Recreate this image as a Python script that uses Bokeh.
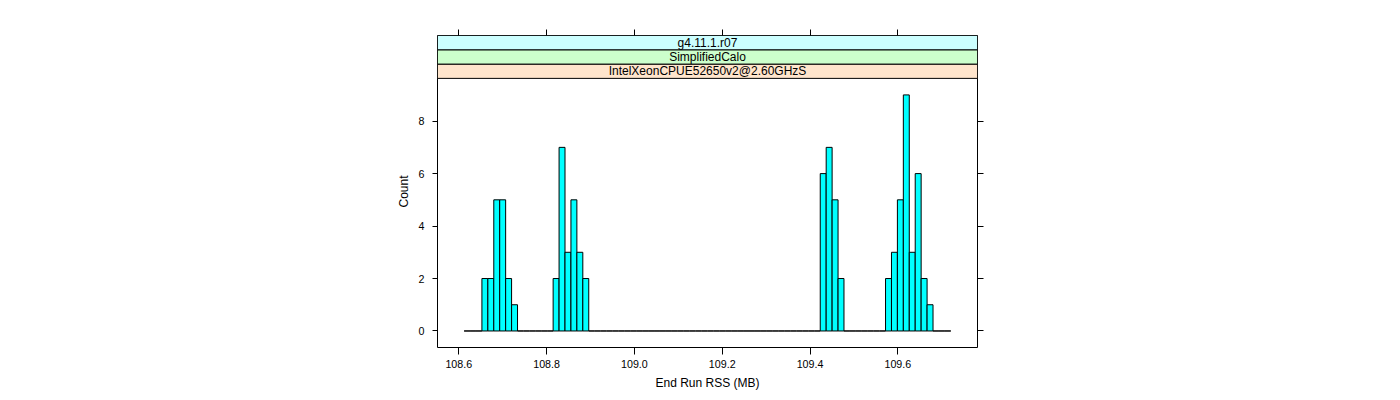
from bokeh.plotting import figure
from bokeh.models import Range1d, FixedTicker, LinearAxis, ColumnDataSource, NumeralTickFormatter
from bokeh.core.properties import value
from bokeh.embed import file_html
from bokeh.resources import INLINE

# ---- data -------------------------------------------------------------
bin_start = 108.6121      # first histogram break (MB)
bin_width = 0.01352       # histogram bin width (MB)
counts = [
    0, 0, 0,
    2, 2, 5, 5, 2, 1,
    0, 0, 0, 0, 0, 0,
    2, 7, 3, 5, 3, 2,
    0, 0, 0, 0, 0, 0, 0, 0, 0, 0, 0, 0, 0, 0, 0, 0, 0, 0, 0, 0,
    0, 0, 0, 0, 0, 0, 0, 0, 0, 0, 0, 0, 0, 0, 0, 0, 0, 0, 0,
    6, 7, 5, 2,
    0, 0, 0, 0, 0, 0, 0,
    2, 3, 5, 9, 3, 6, 2, 1,
    0, 0, 0,
]
x_ticks = [108.6, 108.8, 109.0, 109.2, 109.4, 109.6]
y_ticks = [0, 2, 4, 6, 8]
strip_labels = ["IntelXeonCPUE52650v2@2.60GHzS", "SimplifiedCalo", "g4.11.1.r07"]
strip_colors = ["#ffe5cc", "#ccffcc", "#ccffff"]

# ---- layout constants ---------------------------------------------------
FONT = "Liberation Sans"
X0, X1 = 108.5515, 109.7815
Y0, PANEL_TOP = -0.63, 9.63
STRIP_H = 0.545
Y1 = PANEL_TOP + 3 * STRIP_H

p = figure(frame_width=540, frame_height=312,
           min_border_left=437, min_border_right=415,
           min_border_top=35, min_border_bottom=48,
           x_range=Range1d(X0, X1), y_range=Range1d(Y0, Y1),
           output_backend="svg", toolbar_location=None)
p.xgrid.visible = False
p.ygrid.visible = False
p.outline_line_color = "black"
p.outline_line_width = 1
p.background_fill_color = "white"
p.border_fill_color = "white"

# histogram
lefts = [bin_start + i * bin_width for i in range(len(counts))]
rights = [l + bin_width for l in lefts]
src = ColumnDataSource(dict(left=lefts, right=rights, top=counts,
                            bottom=[0] * len(counts)))
p.quad(left="left", right="right", top="top", bottom="bottom", source=src,
       fill_color="#00FFFF", line_color="black", line_width=1)

# strips
sb = [PANEL_TOP + i * STRIP_H for i in range(3)]
st = [b + STRIP_H for b in sb]
p.quad(left=[X0] * 3, right=[X1] * 3, bottom=sb, top=st,
       fill_color=strip_colors, line_color="black", line_width=1)
p.text(x=[(X0 + X1) / 2] * 3, y=[(b + t) / 2 for b, t in zip(sb, st)],
       text=strip_labels, text_font=value(FONT), text_font_size="12px",
       text_align="center", text_baseline="middle", text_color="black")

# axes
def style(ax, tick_out, ticks, show_labels):
    ax.axis_line_color = None
    ax.major_tick_in = 0
    ax.major_tick_out = tick_out
    ax.major_tick_line_color = "black"
    ax.minor_tick_line_color = None
    ax.major_label_text_font = FONT
    ax.major_label_text_color = "black"
    ax.major_label_text_font_size = "10.7px"
    if not show_labels:
        ax.major_label_overrides = {t: "" for t in ticks}
    ax.axis_label_text_font = FONT
    ax.axis_label_text_font_size = "12px"
    ax.axis_label_text_font_style = "normal"
    ax.axis_label_text_color = "black"

xb = p.xaxis[0]
xb.ticker = FixedTicker(ticks=x_ticks)
xb.formatter = NumeralTickFormatter(format="0.0")
xb.axis_label = "End Run RSS (MB)"
style(xb, 7, x_ticks, True)

yl = p.yaxis[0]
yl.ticker = FixedTicker(ticks=y_ticks)
yl.axis_label = "Count"
style(yl, 5, y_ticks, True)
yl.major_label_standoff = 8

xt = LinearAxis(ticker=FixedTicker(ticks=x_ticks))
style(xt, 6, x_ticks, False)
p.add_layout(xt, "above")

yr = LinearAxis(ticker=FixedTicker(ticks=y_ticks))
style(yr, 6, y_ticks, False)
p.add_layout(yr, "right")

open("out.html", "w").write(file_html(p, INLINE))
